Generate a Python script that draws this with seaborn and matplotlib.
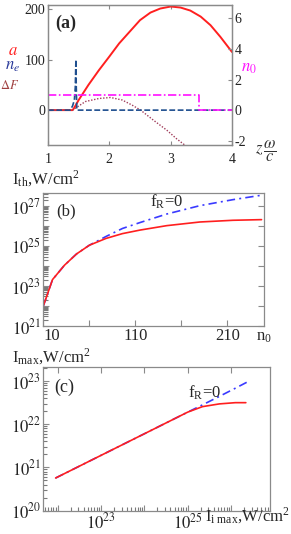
import numpy as np
import pandas as pd
import matplotlib
matplotlib.use("Agg")
import matplotlib.pyplot as plt
import matplotlib.ticker as mticker
import seaborn as sns

# ---------------- data: panel (a) ----------------
z_a = [1.0, 1.2, 1.40, 1.42, 1.50, 1.66, 1.83, 2.00, 2.16, 2.33, 2.50, 2.67, 2.83, 3.00, 3.16, 3.32, 3.49, 3.65, 3.81, 4.00]
a_vals = [0, 0, 0, 3, 20, 50, 79, 106, 132, 155, 178, 193, 201, 205, 203, 197, 185, 168, 145, 115]

z_ne = [1.0, 1.36, 1.40, 1.43, 1.445, 1.455, 1.46, 1.47, 4.0]
ne_vals = [0, 0, 8, 20, 45, 100, 50, 0, 0]

z_dF = [1.0, 1.40, 1.61, 1.83, 2.02, 2.21, 2.37, 2.51, 2.72, 2.94, 3.10, 3.24, 3.30]
dF_vals = [0, 0, 17, 23, 25, 20, 10, 0, -20, -40, -57, -70, -76]

z_n0 = [1.0, 3.46, 3.46, 4.0]
n0_vals = [1, 1, 0, 0]

# ---------------- data: panel (b) ----------------
n0_b = [10, 20, 33, 46, 60, 78, 96, 115, 144, 180, 216, 247]
Ith_red = [1.0e22, 2.1e23, 1.1e24, 4.0e24, 1.1e25, 2.4e25, 4.2e25, 6.3e25, 1.05e26, 1.6e26, 1.95e26, 2.1e26]
Ith_blue = [1.0e22, 2.1e23, 1.1e24, 4.0e24, 1.1e25, 3.0e25, 7.6e25, 1.5e26, 4.0e26, 1.05e27, 2.1e27, 3.5e27]

# ---------------- data: panel (c) ----------------
Ii_c = [9e21, 1e23, 1e24, 1e25, 2.2e25, 5.4e25, 1.26e26, 2.2e26]
Imax_red = [5.7e20, 1.9e21, 6.0e21, 1.9e22, 2.55e22, 2.95e22, 3.15e22, 3.15e22]
Ii_c_blue = [9e21, 1e23, 1e24, 1e25, 2.2e25, 5.4e25, 1.26e26, 2.3e26]
Imax_blue = [5.7e20, 1.9e21, 6.0e21, 1.9e22, 2.8e22, 4.4e22, 6.8e22, 9.3e22]

# tick values / labels
a_xticks = [1, 2, 3, 4]
a_lticks = [0, 100, 200]
a_rticks = [-2, 0, 2, 4, 6]
b_xticks = [10, 60, 110, 160, 210]
b_xlabels = ["10", "", "110", "", "210"]
b_yticks = [1e21, 1e22, 1e23, 1e24, 1e25, 1e26, 1e27]
b_ylabels = [r"$10^{21}$", "", r"$10^{23}$", "", r"$10^{25}$", "", r"$10^{27}$"]
c_xticks = [1e22, 1e23, 1e24, 1e25, 1e26]
c_xlabels = ["", r"$10^{23}$", "", r"$10^{25}$", ""]
c_yticks = [1e20, 1e21, 1e22, 1e23]
c_ylabels = [r"$10^{20}$", r"$10^{21}$", r"$10^{22}$", r"$10^{23}$"]

sns.set_style("ticks")
plt.rcParams['font.family'] = ['Liberation Serif', 'DejaVu Serif']
plt.rcParams['mathtext.fontset'] = 'stix'

W, H = 291, 534
fig = plt.figure(figsize=(W / 100, H / 100), dpi=100)


def px(x, y):
    return x / W, 1 - y / H


def box(l, t, r, b):
    return [l / W, 1 - b / H, (r - l) / W, (b - t) / H]


SPINE = "#8a8a8a"
MINOR = "#7a7a7a"
RED = "#ff1f1f"
BLUE_D = "#1f4f8f"
MAG = "#ff10ff"
BROWN = "#a03c5a"
BLUE = "#3a3aff"


def style_spines(ax):
    for s in ax.spines.values():
        s.set_color(SPINE)
        s.set_linewidth(0.9)
        s.set_visible(True)


def line(ax, x, y, **kw):
    df = pd.DataFrame({"x": x, "y": y})
    sns.lineplot(data=df, x="x", y="y", ax=ax, estimator=None, sort=False, **kw)


# ================= panel (a) =================
axa = fig.add_axes(box(48, 5, 232, 145))
axa2 = axa.twinx()
line(axa, z_a, a_vals, color=RED, linewidth=1.4)
line(axa, z_dF, dF_vals, color=BROWN, linewidth=1.0, linestyle=(0, (1, 1.2)))
line(axa, z_ne, ne_vals, color=BLUE_D, linewidth=1.2, linestyle=(0, (3.5, 1.5)))
line(axa2, z_n0, n0_vals, color=MAG, linewidth=1.2, linestyle=(0, (5, 1.5, 1, 1.5)))
axa.set_xlim(1, 4)
axa.set_ylim(-69, 208)
axa2.set_ylim(-2.29, 6.88)
axa.set_xticks(a_xticks)
axa.set_xticklabels([str(v) for v in a_xticks])
axa.set_yticks(a_lticks)
axa.set_yticklabels([str(v) for v in a_lticks])
axa2.set_yticks(a_rticks)
axa2.set_yticklabels([str(v) for v in a_rticks])
for ax in (axa, axa2):
    ax.set_xlabel("")
    ax.set_ylabel("")
    style_spines(ax)
axa.tick_params(axis='x', direction='in', top=True, length=3, width=0.8, color=SPINE,
                labelsize=10, pad=6, labelcolor="#222222")
axa.tick_params(axis='y', direction='in', length=3, width=0.8, color=SPINE,
                labelsize=10, pad=2, labelcolor="#222222")
axa2.tick_params(axis='y', direction='in', length=3, width=0.8, color=SPINE,
                 labelsize=10, pad=2, labelcolor="#222222")
axa.text(0.04, 0.93, "(a)", transform=axa.transAxes, fontsize=13, fontweight='bold',
         ha='left', va='top')
fig.text(*px(13, 51), r"$a$", color=RED, fontsize=12, ha='center', va='center')
fig.text(*px(13, 66), r"$n_e$", color="#2a3a9a", fontsize=12, ha='center', va='center')
fig.text(*px(10, 85), r"$\mathit{\Delta F}$", color="#a04040", fontsize=9, ha='center', va='center')
fig.text(*px(249, 68), r"$n_0$", color=MAG, fontsize=12, ha='center', va='center')
fig.text(*px(266, 151), r"$z\,\dfrac{\omega}{c}$", color="#333333", fontsize=12, ha='center', va='center')

# ================= panel (b) =================
axb = fig.add_axes(box(43.3, 192.7, 264.3, 326))
line(axb, n0_b, Ith_blue, color=BLUE, linewidth=1.2, linestyle=(0, (5, 2.5, 1.2, 2.5)))
line(axb, n0_b, Ith_red, color=RED, linewidth=1.2)
axb.set_yscale('log')
axb.set_xlim(10, 250)
axb.set_ylim(1e21, 10 ** 27.67)
axb.set_xticks(b_xticks)
axb.set_xticklabels(b_xlabels)
axb.set_yticks(b_yticks)
axb.set_yticklabels(b_ylabels)
axb.yaxis.set_minor_locator(mticker.LogLocator(base=10, subs=np.arange(2, 10), numticks=30))
axb.yaxis.set_minor_formatter(mticker.NullFormatter())
axb.set_xlabel("")
axb.set_ylabel("")
style_spines(axb)
axb.tick_params(axis='both', which='major', direction='in', right=True, length=4, width=0.8,
                color=SPINE, labelsize=12, pad=1.5)
axb.tick_params(axis='y', which='minor', direction='in', left=True, right=False,
                length=3.5, width=0.8, color=MINOR)
axb.get_xticklabels()[0].set_horizontalalignment('left')
axb.text(0.06, 0.92, "(b)", transform=axb.transAxes, fontsize=12, ha='left', va='top')
fig.text(*px(167, 202), r"f$_{\mathregular{R}}$=0", fontsize=12, ha='center', va='center')
fig.text(*px(12, 179), r"I$_{\mathregular{th}}$,W/cm$^{\mathregular{2}}$", fontsize=12, ha='left', va='center')
fig.text(*px(264, 337), r"n$_{\mathregular{0}}$", fontsize=12, ha='center', va='center')

# ================= panel (c) =================
axc = fig.add_axes(box(43.3, 366.7, 270, 510.7))
line(axc, Ii_c_blue, Imax_blue, color=BLUE, linewidth=1.2, linestyle=(0, (5, 2.5, 1.2, 2.5)))
line(axc, Ii_c, Imax_red, color=RED, linewidth=1.2)
axc.set_xscale('log')
axc.set_yscale('log')
axc.set_xlim(10 ** 21.67, 10 ** 26.9)
axc.set_ylim(1e20, 10 ** 23.33)
axc.set_xticks(c_xticks)
axc.set_xticklabels(c_xlabels)
axc.set_yticks(c_yticks)
axc.set_yticklabels(c_ylabels)
for axis in (axc.xaxis, axc.yaxis):
    axis.set_minor_locator(mticker.LogLocator(base=10, subs=np.arange(2, 10), numticks=30))
    axis.set_minor_formatter(mticker.NullFormatter())
axc.set_xlabel("")
axc.set_ylabel("")
style_spines(axc)
axc.tick_params(axis='both', which='major', direction='in', top=True, length=4.5, width=0.8,
                color=SPINE, labelsize=12, pad=1.5)
axc.tick_params(axis='both', which='minor', direction='in', top=False, right=False,
                left=True, bottom=True, length=3, width=0.8, color=MINOR)
axc.text(0.05, 0.92, "(c)", transform=axc.transAxes, fontsize=13, ha='left', va='top')
fig.text(*px(205, 393), r"f$_{\mathregular{R}}$=0", fontsize=12, ha='center', va='center')
fig.text(*px(12, 357), r"I$_{\mathregular{max}}$,W/cm$^{\mathregular{2}}$", fontsize=12, ha='left', va='center')
fig.text(*px(290, 516), r"I$_{\mathregular{i\ max}}$,W/cm$^{\mathregular{2}}$", fontsize=12, ha='right', va='center')

fig.savefig("out.png", dpi=100)
